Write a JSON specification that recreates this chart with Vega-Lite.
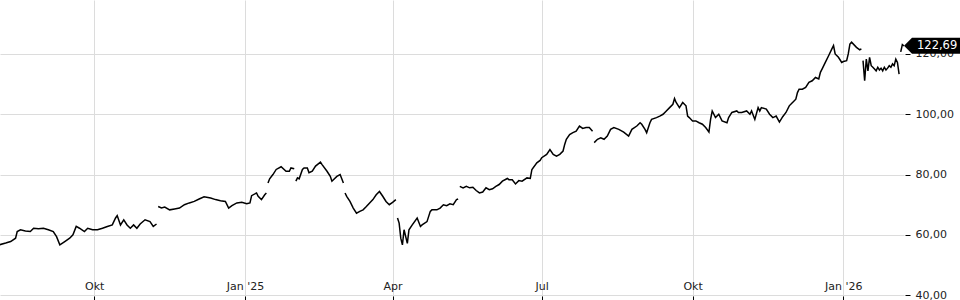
{
  "$schema": "https://vega.github.io/schema/vega-lite/v6.json",
  "width": 904,
  "height": 300,
  "autosize": {"type": "none"},
  "padding": {"left": 0, "top": 0, "right": 56, "bottom": 0},
  "background": "white",
  "config": {
    "view": {"stroke": null},
    "font": "DejaVu Sans",
    "locale": {"number": {"decimal": ",", "thousands": ".", "grouping": [3], "currency": ["", " €"]}}
  },
  "datasets": {
    "price": [
      {"date":"2024-08-04","value":56.7,"s":1},{"date":"2024-08-08","value":57.3,"s":1},{"date":"2024-08-11","value":57.8,"s":1},{"date":"2024-08-14","value":58.9,"s":1},{"date":"2024-08-15","value":61.1,"s":1},{"date":"2024-08-17","value":61.7,"s":1},{"date":"2024-08-20","value":61.3,"s":1},{"date":"2024-08-23","value":61.1,"s":1},{"date":"2024-08-25","value":62.2,"s":1},{"date":"2024-08-28","value":62.0,"s":1},{"date":"2024-08-31","value":62.2,"s":1},{"date":"2024-09-03","value":61.7,"s":1},{"date":"2024-09-06","value":61.1,"s":1},{"date":"2024-09-08","value":59.4,"s":1},{"date":"2024-09-10","value":56.7,"s":1},{"date":"2024-09-13","value":57.8,"s":1},{"date":"2024-09-16","value":58.9,"s":1},{"date":"2024-09-18","value":60.0,"s":1},{"date":"2024-09-20","value":62.8,"s":1},{"date":"2024-09-22","value":62.2,"s":1},{"date":"2024-09-25","value":61.1,"s":1},{"date":"2024-09-27","value":62.2,"s":1},{"date":"2024-09-30","value":61.7,"s":1},{"date":"2024-10-03","value":61.7,"s":1},{"date":"2024-10-06","value":62.2,"s":1},{"date":"2024-10-09","value":62.8,"s":1},{"date":"2024-10-12","value":63.3,"s":1},{"date":"2024-10-14","value":65.6,"s":1},{"date":"2024-10-15","value":66.4,"s":1},{"date":"2024-10-17","value":63.3,"s":1},{"date":"2024-10-19","value":65.0,"s":1},{"date":"2024-10-21","value":63.3,"s":1},{"date":"2024-10-23","value":62.2,"s":1},{"date":"2024-10-25","value":63.3,"s":1},{"date":"2024-10-27","value":62.2,"s":1},{"date":"2024-10-29","value":63.6,"s":1},{"date":"2024-11-01","value":65.0,"s":1},{"date":"2024-11-04","value":64.4,"s":1},{"date":"2024-11-06","value":62.8,"s":1},{"date":"2024-11-08","value":63.6,"s":1},
      {"date":"2024-11-09","value":69.4,"s":2},{"date":"2024-11-11","value":68.9,"s":2},{"date":"2024-11-13","value":69.2,"s":2},{"date":"2024-11-16","value":68.3,"s":2},{"date":"2024-11-19","value":68.6,"s":2},{"date":"2024-11-22","value":68.9,"s":2},{"date":"2024-11-25","value":70.0,"s":2},{"date":"2024-11-28","value":70.6,"s":2},{"date":"2024-12-01","value":71.1,"s":2},{"date":"2024-12-04","value":71.9,"s":2},{"date":"2024-12-07","value":72.6,"s":2},{"date":"2024-12-11","value":72.2,"s":2},{"date":"2024-12-14","value":71.7,"s":2},{"date":"2024-12-17","value":71.3,"s":2},{"date":"2024-12-20","value":71.1,"s":2},{"date":"2024-12-22","value":68.9,"s":2},{"date":"2024-12-24","value":69.7,"s":2},{"date":"2024-12-27","value":70.6,"s":2},{"date":"2024-12-30","value":70.8,"s":2},{"date":"2025-01-02","value":70.3,"s":2},{"date":"2025-01-04","value":70.6,"s":2},{"date":"2025-01-05","value":73.0,"s":2},{"date":"2025-01-08","value":73.9,"s":2},{"date":"2025-01-09","value":72.8,"s":2},{"date":"2025-01-11","value":71.7,"s":2},{"date":"2025-01-13","value":73.3,"s":2},{"date":"2025-01-14","value":73.9,"s":2},
      {"date":"2025-01-15","value":77.2,"s":3},{"date":"2025-01-16","value":78.6,"s":3},{"date":"2025-01-18","value":80.0,"s":3},{"date":"2025-01-20","value":81.7,"s":3},{"date":"2025-01-23","value":82.6,"s":3},{"date":"2025-01-26","value":81.1,"s":3},{"date":"2025-01-28","value":81.1,"s":3},{"date":"2025-01-29","value":82.2,"s":3},{"date":"2025-01-31","value":81.9,"s":3},
      {"date":"2025-02-01","value":77.8,"s":4},{"date":"2025-02-02","value":78.9,"s":4},{"date":"2025-02-03","value":78.6,"s":4},{"date":"2025-02-05","value":81.7,"s":4},{"date":"2025-02-06","value":82.2,"s":4},{"date":"2025-02-08","value":82.2,"s":4},{"date":"2025-02-09","value":80.6,"s":4},{"date":"2025-02-11","value":81.1,"s":4},{"date":"2025-02-13","value":82.8,"s":4},{"date":"2025-02-16","value":84.1,"s":4},{"date":"2025-02-17","value":83.3,"s":4},{"date":"2025-02-20","value":81.1,"s":4},{"date":"2025-02-22","value":79.4,"s":4},{"date":"2025-02-23","value":77.8,"s":4},{"date":"2025-02-26","value":79.4,"s":4},{"date":"2025-02-28","value":80.0,"s":4},{"date":"2025-03-02","value":77.2,"s":4},
      {"date":"2025-03-03","value":73.9,"s":5},{"date":"2025-03-04","value":72.8,"s":5},{"date":"2025-03-06","value":71.1,"s":5},{"date":"2025-03-08","value":68.9,"s":5},{"date":"2025-03-10","value":67.2,"s":5},{"date":"2025-03-12","value":67.8,"s":5},{"date":"2025-03-14","value":68.3,"s":5},{"date":"2025-03-16","value":69.4,"s":5},{"date":"2025-03-18","value":70.6,"s":5},{"date":"2025-03-20","value":71.7,"s":5},{"date":"2025-03-22","value":73.3,"s":5},{"date":"2025-03-24","value":74.4,"s":5},{"date":"2025-03-26","value":72.8,"s":5},{"date":"2025-03-28","value":71.1,"s":5},{"date":"2025-03-30","value":70.0,"s":5},{"date":"2025-04-01","value":70.8,"s":5},{"date":"2025-04-03","value":71.7,"s":5},
      {"date":"2025-04-04","value":65.6,"s":6},{"date":"2025-04-05","value":63.9,"s":6},{"date":"2025-04-06","value":58.9,"s":6},{"date":"2025-04-07","value":56.7,"s":6},{"date":"2025-04-08","value":61.7,"s":6},{"date":"2025-04-10","value":57.2,"s":6},{"date":"2025-04-11","value":61.7,"s":6},{"date":"2025-04-13","value":63.3,"s":6},{"date":"2025-04-16","value":65.6,"s":6},{"date":"2025-04-18","value":62.8,"s":6},{"date":"2025-04-19","value":63.3,"s":6},{"date":"2025-04-22","value":64.4,"s":6},{"date":"2025-04-24","value":67.8,"s":6},{"date":"2025-04-25","value":68.3,"s":6},{"date":"2025-04-28","value":68.3,"s":6},{"date":"2025-04-30","value":68.9,"s":6},{"date":"2025-05-02","value":70.0,"s":6},{"date":"2025-05-04","value":69.7,"s":6},{"date":"2025-05-06","value":70.3,"s":6},{"date":"2025-05-08","value":70.0,"s":6},{"date":"2025-05-10","value":71.7,"s":6},{"date":"2025-05-11","value":71.9,"s":6},
      {"date":"2025-05-12","value":76.1,"s":7},{"date":"2025-05-14","value":75.6,"s":7},{"date":"2025-05-16","value":76.1,"s":7},{"date":"2025-05-18","value":75.6,"s":7},{"date":"2025-05-20","value":75.8,"s":7},{"date":"2025-05-22","value":74.7,"s":7},{"date":"2025-05-24","value":73.9,"s":7},{"date":"2025-05-26","value":74.2,"s":7},{"date":"2025-05-28","value":75.6,"s":7},{"date":"2025-05-30","value":75.0,"s":7},{"date":"2025-06-01","value":75.3,"s":7},{"date":"2025-06-03","value":76.1,"s":7},{"date":"2025-06-05","value":76.7,"s":7},{"date":"2025-06-07","value":77.8,"s":7},{"date":"2025-06-10","value":78.7,"s":7},{"date":"2025-06-11","value":78.3,"s":7},{"date":"2025-06-13","value":78.3,"s":7},{"date":"2025-06-15","value":76.9,"s":7},{"date":"2025-06-17","value":78.0,"s":7},{"date":"2025-06-19","value":77.8,"s":7},{"date":"2025-06-22","value":78.9,"s":7},{"date":"2025-06-24","value":78.7,"s":7},{"date":"2025-06-25","value":81.7,"s":7},{"date":"2025-06-28","value":83.9,"s":7},{"date":"2025-06-30","value":84.7,"s":7},{"date":"2025-07-01","value":85.6,"s":7},{"date":"2025-07-04","value":86.7,"s":7},{"date":"2025-07-06","value":88.3,"s":7},{"date":"2025-07-08","value":86.7,"s":7},{"date":"2025-07-10","value":86.1,"s":7},{"date":"2025-07-12","value":86.7,"s":7},{"date":"2025-07-14","value":87.8,"s":7},{"date":"2025-07-15","value":90.0,"s":7},{"date":"2025-07-16","value":91.7,"s":7},{"date":"2025-07-18","value":93.3,"s":7},{"date":"2025-07-20","value":93.9,"s":7},{"date":"2025-07-22","value":94.4,"s":7},{"date":"2025-07-24","value":96.1,"s":7},{"date":"2025-07-26","value":95.3,"s":7},{"date":"2025-07-28","value":95.6,"s":7},{"date":"2025-07-30","value":95.6,"s":7},{"date":"2025-08-01","value":94.4,"s":7},
      {"date":"2025-08-02","value":90.6,"s":8},{"date":"2025-08-04","value":91.7,"s":8},{"date":"2025-08-06","value":92.2,"s":8},{"date":"2025-08-08","value":91.7,"s":8},{"date":"2025-08-10","value":92.8,"s":8},{"date":"2025-08-12","value":95.0,"s":8},{"date":"2025-08-14","value":95.6,"s":8},{"date":"2025-08-17","value":95.0,"s":8},{"date":"2025-08-20","value":94.1,"s":8},{"date":"2025-08-23","value":92.8,"s":8},{"date":"2025-08-25","value":95.0,"s":8},{"date":"2025-08-28","value":96.1,"s":8},{"date":"2025-08-30","value":97.2,"s":8},{"date":"2025-08-31","value":96.7,"s":8},{"date":"2025-09-02","value":95.0,"s":8},{"date":"2025-09-03","value":93.9,"s":8},{"date":"2025-09-05","value":97.2,"s":8},{"date":"2025-09-06","value":98.3,"s":8},{"date":"2025-09-09","value":98.9,"s":8},{"date":"2025-09-11","value":99.4,"s":8},{"date":"2025-09-13","value":100.0,"s":8},{"date":"2025-09-15","value":101.1,"s":8},{"date":"2025-09-17","value":102.2,"s":8},{"date":"2025-09-19","value":103.3,"s":8},{"date":"2025-09-20","value":105.2,"s":8},{"date":"2025-09-21","value":103.9,"s":8},{"date":"2025-09-23","value":102.2,"s":8},{"date":"2025-09-25","value":103.9,"s":8},{"date":"2025-09-27","value":102.8,"s":8},{"date":"2025-09-28","value":99.4,"s":8},{"date":"2025-09-29","value":98.9,"s":8},{"date":"2025-10-01","value":97.8,"s":8},{"date":"2025-10-03","value":97.8,"s":8},{"date":"2025-10-05","value":97.2,"s":8},{"date":"2025-10-07","value":96.7,"s":8},{"date":"2025-10-09","value":95.6,"s":8},{"date":"2025-10-11","value":94.1,"s":8},{"date":"2025-10-12","value":98.3,"s":8},{"date":"2025-10-13","value":101.1,"s":8},{"date":"2025-10-15","value":98.9,"s":8},{"date":"2025-10-17","value":100.0,"s":8},{"date":"2025-10-19","value":97.8,"s":8},{"date":"2025-10-22","value":97.2,"s":8},{"date":"2025-10-23","value":98.9,"s":8},{"date":"2025-10-25","value":100.6,"s":8},{"date":"2025-10-28","value":101.1,"s":8},{"date":"2025-10-29","value":100.6,"s":8},{"date":"2025-10-31","value":100.6,"s":8},{"date":"2025-11-03","value":101.1,"s":8},{"date":"2025-11-05","value":100.0,"s":8},{"date":"2025-11-06","value":101.1,"s":8},{"date":"2025-11-08","value":98.3,"s":8},{"date":"2025-11-10","value":102.2,"s":8},{"date":"2025-11-11","value":101.1,"s":8},{"date":"2025-11-12","value":102.2,"s":8},{"date":"2025-11-15","value":101.7,"s":8},{"date":"2025-11-17","value":100.0,"s":8},{"date":"2025-11-19","value":98.9,"s":8},{"date":"2025-11-21","value":99.4,"s":8},{"date":"2025-11-23","value":97.4,"s":8},{"date":"2025-11-25","value":99.2,"s":8},{"date":"2025-11-27","value":100.6,"s":8},{"date":"2025-11-29","value":102.8,"s":8},{"date":"2025-12-01","value":103.9,"s":8},{"date":"2025-12-03","value":105.0,"s":8},{"date":"2025-12-04","value":107.2,"s":8},{"date":"2025-12-05","value":108.3,"s":8},{"date":"2025-12-07","value":108.3,"s":8},{"date":"2025-12-09","value":108.9,"s":8},{"date":"2025-12-11","value":110.6,"s":8},{"date":"2025-12-13","value":111.1,"s":8},{"date":"2025-12-15","value":112.2,"s":8},{"date":"2025-12-17","value":111.7,"s":8},{"date":"2025-12-18","value":113.9,"s":8},{"date":"2025-12-19","value":115.0,"s":8},{"date":"2025-12-21","value":117.2,"s":8},{"date":"2025-12-23","value":119.4,"s":8},{"date":"2025-12-25","value":121.7,"s":8},{"date":"2025-12-26","value":122.8,"s":8},{"date":"2025-12-27","value":120.0,"s":8},{"date":"2025-12-29","value":118.9,"s":8},{"date":"2025-12-31","value":117.2,"s":8},{"date":"2026-01-01","value":117.5,"s":8},{"date":"2026-01-03","value":117.8,"s":8},{"date":"2026-01-04","value":120.0,"s":8},{"date":"2026-01-05","value":123.3,"s":8},{"date":"2026-01-06","value":123.9,"s":8},{"date":"2026-01-09","value":122.2,"s":8},{"date":"2026-01-11","value":121.4,"s":8},{"date":"2026-01-12","value":121.7,"s":8},
      {"date":"2026-01-13","value":117.8,"s":9},{"date":"2026-01-14","value":111.1,"s":9},{"date":"2026-01-15","value":118.3,"s":9},{"date":"2026-01-16","value":114.4,"s":9},{"date":"2026-01-17","value":118.9,"s":9},{"date":"2026-01-18","value":116.1,"s":9},{"date":"2026-01-19","value":115.6,"s":9},{"date":"2026-01-20","value":115.0,"s":9},{"date":"2026-01-21","value":114.4,"s":9},{"date":"2026-01-22","value":115.6,"s":9},{"date":"2026-01-23","value":114.7,"s":9},{"date":"2026-01-24","value":115.3,"s":9},{"date":"2026-01-25","value":114.4,"s":9},{"date":"2026-01-26","value":115.6,"s":9},{"date":"2026-01-27","value":114.7,"s":9},{"date":"2026-01-28","value":115.3,"s":9},{"date":"2026-01-29","value":116.1,"s":9},{"date":"2026-01-30","value":115.6,"s":9},{"date":"2026-01-31","value":116.7,"s":9},{"date":"2026-02-01","value":116.1,"s":9},{"date":"2026-02-02","value":118.3,"s":9},{"date":"2026-02-03","value":117.2,"s":9},{"date":"2026-02-04","value":113.3,"s":9},
      {"date":"2026-02-05","value":120.7,"s":10},{"date":"2026-02-06","value":123.1,"s":10},{"date":"2026-02-07","value":122.69,"s":10}
    ],
    "last": [{"date":"2026-02-07","value":122.69}]
  },
  "layer": [
    {
      "data": {"name": "price"},
      "mark": {"type": "line", "color": "black", "strokeWidth": 1.5, "clip": true},
      "encoding": {
        "x": {
          "field": "date", "type": "temporal",
          "scale": {"type": "utc", "domain": [{"year": 2024, "month": 8, "date": 4, "hours": 12, "utc": true}, {"year": 2026, "month": 2, "date": 7, "utc": true}]},
          "axis": {
            "title": null,
            "values": [
              {"year": 2024, "month": 10, "date": 1, "utc": true},
              {"year": 2025, "month": 1, "date": 1, "utc": true},
              {"year": 2025, "month": 4, "date": 1, "utc": true},
              {"year": 2025, "month": 7, "date": 1, "utc": true},
              {"year": 2025, "month": 10, "date": 1, "utc": true},
              {"year": 2026, "month": 1, "date": 1, "utc": true}
            ],
            "labelExpr": "utcmonth(datum.value) == 0 ? \"Jan '\" + utcFormat(datum.value, '%y') : utcmonth(datum.value) == 3 ? 'Apr' : utcmonth(datum.value) == 6 ? 'Jul' : 'Okt'",
            "grid": true, "gridColor": "#dcdcdc", "gridWidth": 1,
            "domain": false,
            "ticks": true, "tickSize": -4, "tickColor": "black",
            "labelPadding": -16, "labelFontSize": 11, "labelColor": "#222222",
            "labelFlush": false, "labelOverlap": false
          }
        },
        "y": {
          "field": "value", "type": "quantitative",
          "scale": {"domain": [38.4, 137.9], "zero": false, "nice": false},
          "axis": {
            "title": null, "orient": "right",
            "values": [40, 60, 80, 100, 120],
            "format": ".2f",
            "grid": true, "gridColor": "#dcdcdc", "gridWidth": 1,
            "domain": false,
            "tickColor": "black", "tickSize": 5, "offset": 1,
            "labelPadding": 5, "labelFontSize": 11, "labelColor": "#222222"
          }
        },
        "detail": {"field": "s", "type": "nominal"}
      }
    },
    {
      "data": {"name": "last"},
      "mark": {"type": "point", "shape": "M0,0L1,-1L7,-1L7,1L1,1Z", "filled": true, "color": "black", "opacity": 1, "size": 256, "strokeWidth": 0},
      "encoding": {
        "x": {"field": "date", "type": "temporal"},
        "y": {"field": "value", "type": "quantitative"}
      }
    },
    {
      "data": {"name": "last"},
      "mark": {"type": "text", "color": "white", "align": "left", "baseline": "middle", "dx": 13, "fontSize": 11.5},
      "encoding": {
        "x": {"field": "date", "type": "temporal"},
        "y": {"field": "value", "type": "quantitative"},
        "text": {"field": "value", "type": "quantitative", "format": ".2f"}
      }
    }
  ]
}
